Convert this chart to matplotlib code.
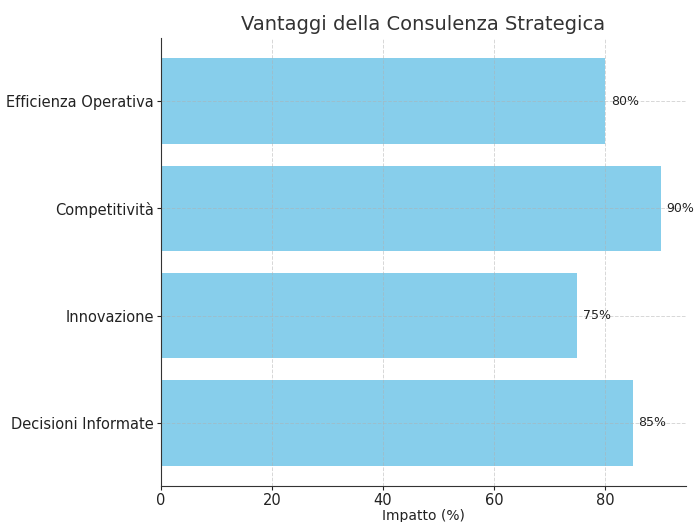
import matplotlib
matplotlib.use("Agg")
import matplotlib.pyplot as plt

categorie = ["Decisioni Informate", "Innovazione", "Competitività", "Efficienza Operativa"]
impatto = [85, 75, 90, 80]

fig, ax = plt.subplots(figsize=(6.94, 5.22), dpi=100)
fig.subplots_adjust(left=0.232, right=0.988, top=0.927, bottom=0.069)

bars = ax.barh(categorie, impatto, color="skyblue")

for bar, v in zip(bars, impatto):
    ax.text(bar.get_width() + 1, bar.get_y() + bar.get_height() / 2, f"{v}%",
            va="center", ha="left", fontsize=9, color="#222222")

ax.set_title("Vantaggi della Consulenza Strategica", fontsize=14, color="#333333")
ax.set_xlabel("Impatto (%)", fontsize=10, labelpad=1, color="#222222")
ax.tick_params(labelsize=10.5, pad=2, length=3, colors="#222222")
ax.grid(True, linestyle="--", linewidth=0.7, alpha=0.5)
ax.spines["top"].set_visible(False)
ax.spines["right"].set_visible(False)
ax.spines["left"].set_color("#333333")
ax.spines["bottom"].set_color("#333333")

fig.savefig("out.png")
